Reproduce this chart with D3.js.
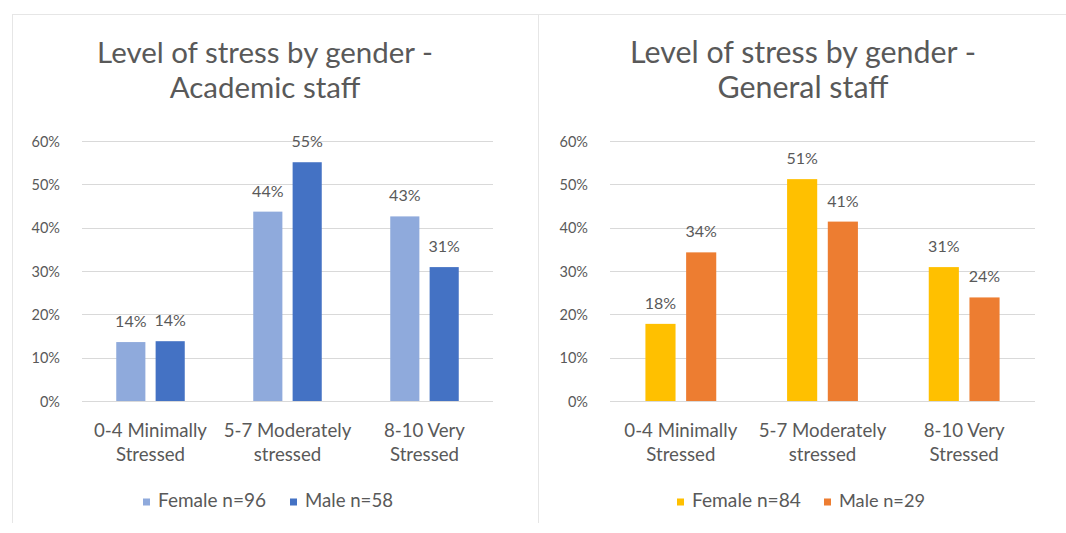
<!DOCTYPE html>
<html>
<head>
<meta charset="utf-8">
<script src="https://cdn.jsdelivr.net/npm/d3@7"></script>
<style>
  html, body { margin: 0; padding: 0; background: #ffffff; }
  svg { display: block; }
  text { font-family: Lato, "Open Sans", sans-serif; fill: #595959; }
</style>
</head>
<body>
<svg id="chart" width="1066" height="533"></svg>
<script>
// ---- data ----
const categoryLine1 = ["0-4 Minimally", "5-7 Moderately", "8-10 Very"];
const categoryLine2 = ["Stressed", "stressed", "Stressed"];
const yTicks = [0, 10, 20, 30, 40, 50, 60];

const academicTitle = ["Level of stress by gender -", "Academic staff"];
const academicSeries = ["Female n=96", "Male n=58"];
const academicFemale = [13.6, 43.7, 42.6];
const academicMale = [13.8, 55.1, 30.9];

const generalTitle = ["Level of stress by gender -", "General staff"];
const generalSeries = ["Female n=84", "Male n=29"];
const generalFemale = [17.8, 51.2, 30.9];
const generalMale = [34.3, 41.4, 23.9];

// ---- drawing ----
const svg = d3.select("#chart");

// panel frames
svg.append("line").attr("x1", 12).attr("x2", 1066).attr("y1", 14.5).attr("y2", 14.5)
  .attr("stroke", "#e6e6e6");
svg.append("line").attr("x1", 12.5).attr("x2", 12.5).attr("y1", 14).attr("y2", 523)
  .attr("stroke", "#e6e6e6");
svg.append("line").attr("x1", 538.5).attr("x2", 538.5).attr("y1", 14).attr("y2", 523)
  .attr("stroke", "#e6e6e6");

function fit(sel, target) {
  sel.each(function () {
    const fs = parseFloat(d3.select(this).attr("font-size"));
    const w = this.getComputedTextLength();
    if (w > 0) d3.select(this).attr("font-size", (fs * target / w).toFixed(2));
  });
}

function drawPanel(cfg) {
  const g = svg.append("g");
  const x0 = d3.scaleBand().domain(d3.range(categoryLine1.length))
    .range([cfg.left, cfg.right]).paddingInner(0.5).paddingOuter(0.25);
  const x1 = d3.scaleBand().domain([0, 1]).range([0, x0.bandwidth()]).paddingInner(0.26);
  const y = d3.scaleLinear().domain([0, 60]).range([401, 141]);

  // title
  const t1 = g.append("text").attr("x", cfg.titleX).attr("y", 63)
    .attr("text-anchor", "middle").attr("font-size", 24).text(cfg.title[0]);
  fit(t1, cfg.titleW);
  g.append("text").attr("x", cfg.titleX).attr("y", 98)
    .attr("text-anchor", "middle").attr("font-size", t1.attr("font-size")).text(cfg.title[1]);

  // gridlines
  g.append("g").selectAll("line").data(yTicks).join("line")
    .attr("x1", cfg.left).attr("x2", cfg.right)
    .attr("y1", d => Math.round(y(d)) + 0.5).attr("y2", d => Math.round(y(d)) + 0.5)
    .attr("stroke", "#d9d9d9").attr("stroke-width", 1);

  // y axis labels via d3 axis
  const ax = g.append("g").attr("transform", `translate(${cfg.left},0)`)
    .call(d3.axisLeft(y).tickValues(yTicks).tickFormat(d => d + "%").tickSize(0).tickPadding(cfg.left - cfg.tickRight));
  ax.select(".domain").remove();
  ax.selectAll("text").attr("font-size", 14.5).attr("font-family", "Lato, 'Open Sans', sans-serif")
    .attr("fill", "#595959").attr("dy", "0.35em");

  // bars
  const series = [cfg.female, cfg.male];
  const colors = cfg.colors;
  series.forEach((vals, si) => {
    g.append("g").selectAll("rect").data(vals).join("rect")
      .attr("x", (d, i) => x0(i) + x1(si))
      .attr("width", x1.bandwidth())
      .attr("y", d => y(d))
      .attr("height", d => y(0) - y(d))
      .attr("fill", colors[si]);
    g.append("g").selectAll("text").data(vals).join("text")
      .attr("x", (d, i) => x0(i) + x1(si) + x1.bandwidth() / 2)
      .attr("y", d => y(d) - 15)
      .attr("text-anchor", "middle").attr("font-size", 16)
      .text(d => Math.round(d) + "%");
  });

  // category labels
  const c1 = g.append("g").selectAll("text").data(categoryLine1).join("text")
    .attr("x", (d, i) => x0(i) + x0.bandwidth() / 2).attr("y", 436.5)
    .attr("text-anchor", "middle").attr("font-size", 16).text(d => d);
  fit(c1.filter((d, i) => i === 0), cfg.catW);
  const cfs = c1.filter((d, i) => i === 0).attr("font-size");
  c1.attr("font-size", cfs);
  g.append("g").selectAll("text").data(categoryLine2).join("text")
    .attr("x", (d, i) => x0(i) + x0.bandwidth() / 2).attr("y", 460.5)
    .attr("text-anchor", "middle").attr("font-size", cfs).text(d => d);

  // legend
  cfg.legend.forEach((name, si) => {
    g.append("rect").attr("x", cfg.legX[si]).attr("y", 498.5).attr("width", 7).attr("height", 7)
      .attr("fill", colors[si]);
    const lt = g.append("text").attr("x", cfg.legX[si] + 15).attr("y", 507)
      .attr("font-size", 14).text(name);
    fit(lt, cfg.legW[si]);
  });
}

drawPanel({
  left: 82, right: 493, tickRight: 60, titleX: 265, titleW: 336, catW: 113,
  title: academicTitle, legend: academicSeries,
  female: academicFemale, male: academicMale,
  colors: ["#8faadc", "#4472c4"],
  legX: [143, 290], legW: [108, 88]
});
drawPanel({
  left: 610, right: 1035, tickRight: 588, titleX: 803, titleW: 346, catW: 113,
  title: generalTitle, legend: generalSeries,
  female: generalFemale, male: generalMale,
  colors: ["#ffc000", "#ed7d31"],
  legX: [677, 824], legW: [109, 86]
});
</script>
</body>
</html>
